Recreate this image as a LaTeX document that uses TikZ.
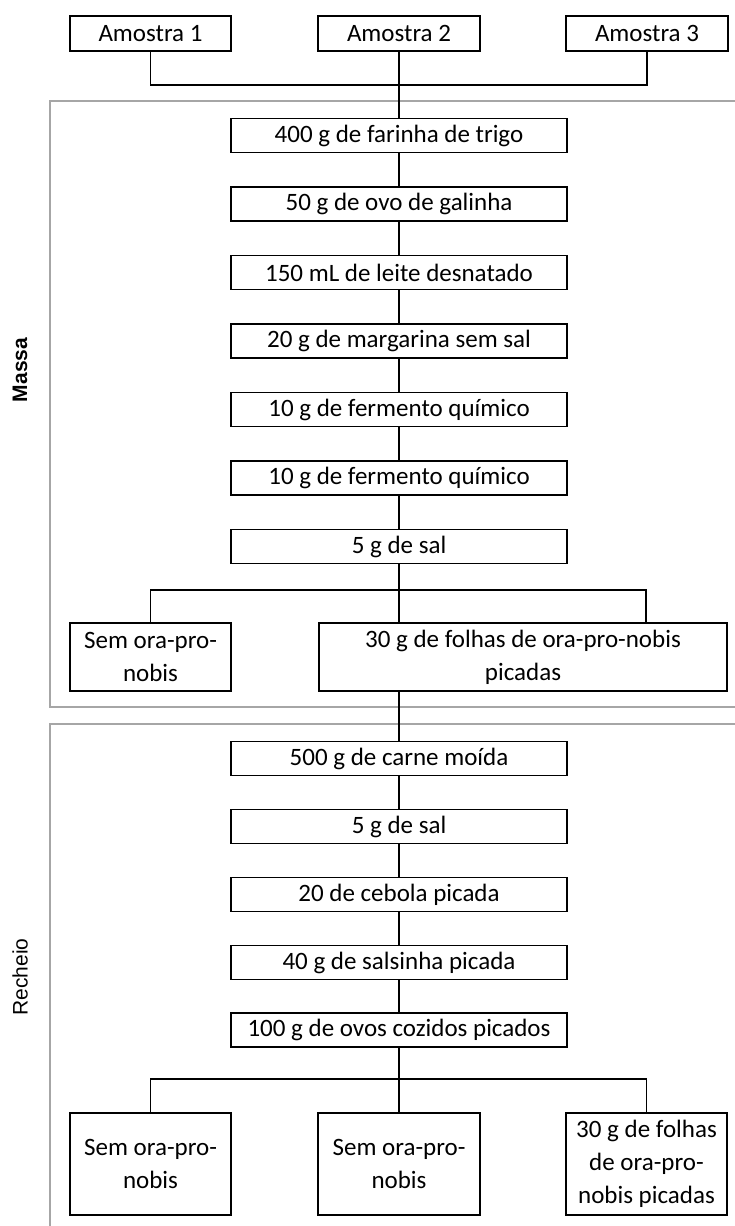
\documentclass[tikz,border=0pt]{standalone}
\usepackage{fontspec}
\setmainfont{Carlito}
\newfontfamily\sidefont{Liberation Sans}
\usetikzlibrary{positioning}

\begin{document}
\begin{tikzpicture}[x=1pt, y=-1pt, line width=1.4pt,
    box_style/.style = {draw, rectangle, align=center, inner sep=0pt,
        font=\fontsize{25}{33}\selectfont, minimum height=34pt},
    panel_style/.style = {draw=gray!70, line width=1.6pt},
    side_style/.style = {rotate=90, font=\sidefont\fontsize{21}{25}\selectfont}]

\clip (0,0) rectangle (735,1226);

% grey panels
\draw[panel_style] (50,101) rectangle (770,707);
\draw[panel_style] (50,724) rectangle (770,1270);

\node[side_style, font=\sidefont\bfseries\fontsize{21}{25}\selectfont] (m) at (20,370) {Massa};
\node[side_style] (r) at (20,977) {Recheio};

% samples
\node[box_style, minimum width=161pt, minimum height=35pt] (1) at (150.5,33.5) {Amostra 1};
\node[box_style, minimum width=162pt, minimum height=35pt] (2) at (399,33.5) {Amostra 2};
\node[box_style, minimum width=162pt, minimum height=35pt] (3) at (647,33.5) {Amostra 3};

% dough
\node[box_style, minimum width=336pt] (4) at (399,135.5) {400 g de farinha de trigo};
\node[box_style, minimum width=336pt, below of=4, node distance=68.5pt] (5) {50 g de ovo de galinha};
\node[box_style, minimum width=336pt, below of=5, node distance=68.5pt] (6) {150 mL de leite desnatado};
\node[box_style, minimum width=336pt, below of=6, node distance=68.5pt] (7) {20 g de margarina sem sal};
\node[box_style, minimum width=336pt, below of=7, node distance=68.5pt] (8) {10 g de fermento químico};
\node[box_style, minimum width=336pt, below of=8, node distance=68.5pt] (9) {10 g de fermento químico};
\node[box_style, minimum width=336pt, below of=9, node distance=68.5pt] (10) {5 g de sal};

\node[box_style, minimum width=161pt, minimum height=68pt] (11) at (150.5,657) {Sem ora-pro-\\nobis};
\node[box_style, minimum width=408pt, minimum height=68pt] (12) at (523,657) {30 g de folhas de ora-pro-nobis\\picadas};

% filling
\node[box_style, minimum width=336pt] (13) at (399,758.5) {500 g de carne moída};
\node[box_style, minimum width=336pt, below of=13, node distance=68pt] (14) {5 g de sal};
\node[box_style, minimum width=336pt, below of=14, node distance=68pt] (15) {20 de cebola picada};
\node[box_style, minimum width=336pt, below of=15, node distance=68pt] (16) {40 g de salsinha picada};
\node[box_style, minimum width=336pt, below of=16, node distance=67.5pt] (17) {100 g de ovos cozidos picados};

\node[box_style, minimum width=161pt, minimum height=102pt] (18) at (150.5,1164) {Sem ora-pro-\\nobis};
\node[box_style, minimum width=162pt, minimum height=102pt] (19) at (399,1164) {Sem ora-pro-\\nobis};
\node[box_style, minimum width=161pt, minimum height=102pt] (20) at (646.5,1164) {30 g de folhas\\de ora-pro-\\nobis picadas};

% samples to dough
\coordinate (j1) at (399,85);
\draw (1.south) |- (j1) -| (3.south);
\draw (2) -- (4);

% dough chain
\draw (4) -- (5);
\draw (5) -- (6);
\draw (6) -- (7);
\draw (7) -- (8);
\draw (8) -- (9);
\draw (9) -- (10);

% dough branches
\coordinate (j2) at (399,590);
\coordinate (j3) at (646,590);
\draw (10) -- (j2 |- 12.north);
\draw (11.north) |- (j3) -- (j3 |- 12.north);

% dough to filling
\draw (j2 |- 12.south) -- (13);

% filling chain
\draw (13) -- (14);
\draw (14) -- (15);
\draw (15) -- (16);
\draw (16) -- (17);

% filling branches
\coordinate (j4) at (399,1079);
\draw (17) -- (19);
\draw (18.north) |- (j4) -| (20.north);

\end{tikzpicture}
\end{document}
